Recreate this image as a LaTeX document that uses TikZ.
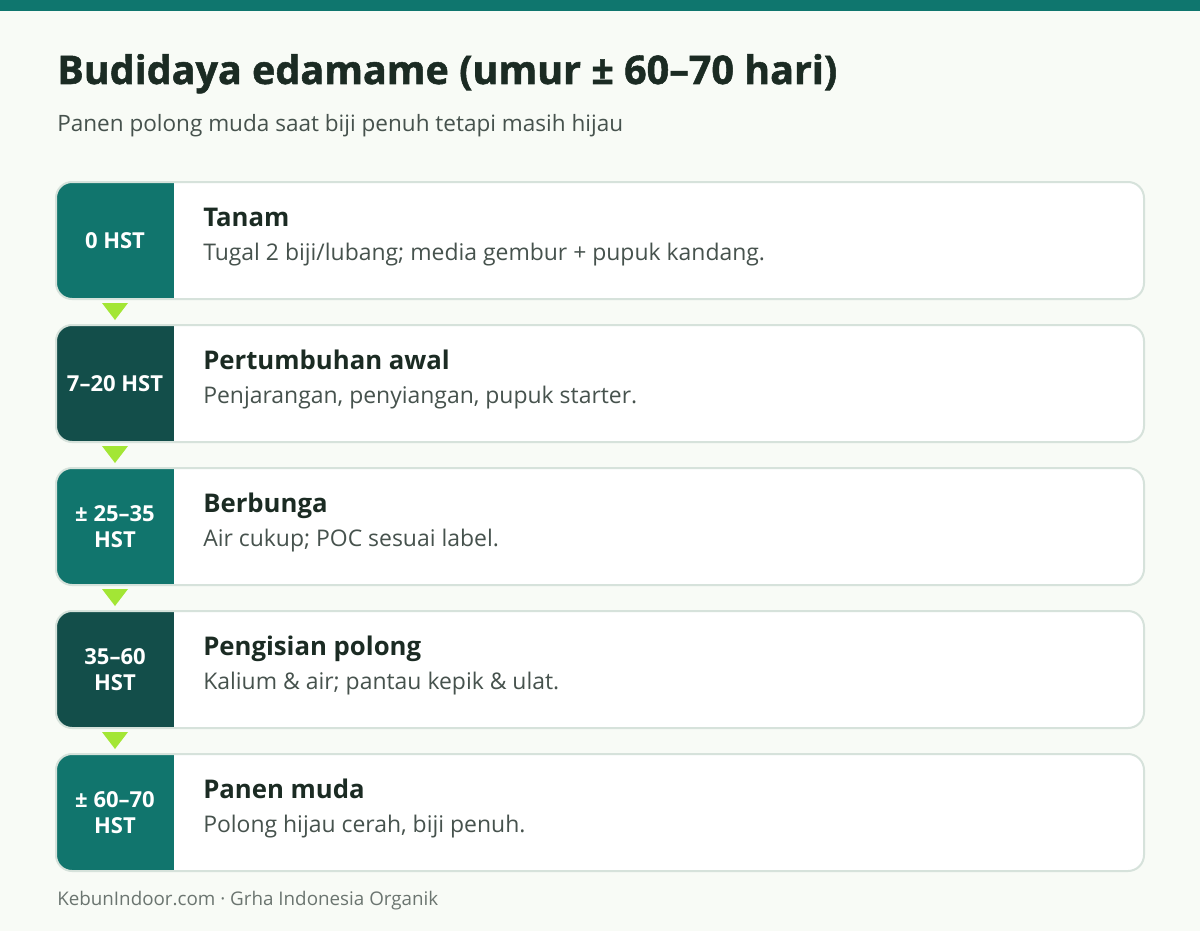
\documentclass[tikz,border=0pt]{standalone}
\usepackage{fontspec}
\setmainfont{Open Sans}
\newfontfamily\titlefont[BoldFeatures={FakeBold=1.3}]{Open Sans}
\definecolor{topbar}{HTML}{0F766E}
\definecolor{pagebg}{HTML}{F8FBF6}
\definecolor{cardline}{HTML}{D6E2DB}
\definecolor{stageA}{HTML}{11756D}
\definecolor{stageB}{HTML}{134E4A}
\definecolor{lime}{HTML}{A3E635}
\definecolor{inkdark}{HTML}{1B2B23}
\definecolor{inkgrey}{HTML}{46524D}
\definecolor{inkfoot}{HTML}{6B7570}
\tikzset{
	heading/.style={anchor=base west,inner sep=0pt,text=inkdark,font=\fontsize{19.3}{23}\selectfont\bfseries},
	detail/.style={anchor=base west,inner sep=0pt,text=inkgrey,font=\fontsize{17.2}{20}\selectfont},
	badge/.style={align=center,inner sep=0pt,text=white,font=\fontsize{16.5}{19.5}\selectfont\bfseries}
}
\begin{document}
\begin{tikzpicture}[x=0.75pt,y=-0.75pt]
		\useasboundingbox (0,0) rectangle (1200,931);
		\fill[pagebg] (0,0) rectangle (1200,931);
		\fill[topbar] (0,0) rectangle (1200,11);

		\node[anchor=base west,inner sep=0pt,text=inkdark,font=\fontsize{29.6}{34}\selectfont\titlefont\bfseries] (title) at (57,84) {Budidaya edamame (umur ± 60–70 hari)};
		\node[anchor=base west,inner sep=0pt,text=inkgrey,font=\fontsize{16.9}{20}\selectfont] (subtitle) at (57,132) {Panen polong muda saat biji penuh tetapi masih hijau};

		\foreach \i/\when/\head/\desc/\col in {
			0/{0 HST}/{Tanam}/{Tugal 2 biji/lubang; media gembur + pupuk kandang.}/stageA,
			1/{7–20 HST}/{Pertumbuhan awal}/{Penjarangan, penyiangan, pupuk starter.}/stageB,
			2/{± 25–35\\HST}/{Berbunga}/{Air cukup; POC sesuai label.}/stageA,
			3/{35–60\\HST}/{Pengisian polong}/{Kalium \& air; pantau kepik \& ulat.}/stageB,
			4/{± 60–70\\HST}/{Panen muda}/{Polong hijau cerah, biji penuh.}/stageA}{
			\pgfmathsetmacro{\top}{182+143*\i}
			\fill[white,rounded corners=12pt] (56,\top) rectangle (1144,\top+117);
			\begin{scope}
				\clip[rounded corners=12pt] (56,\top) rectangle (1144,\top+117);
				\fill[\col] (56,\top) rectangle (174,\top+117);
			\end{scope}
			\draw[cardline,line width=1.5pt,rounded corners=12pt] (56,\top) rectangle (1144,\top+117);
			\node[badge] (when\i) at (115,\top+58.5) {\when};
			\node[heading] (head\i) at (203,\top+44) {\head};
			\node[detail] (desc\i) at (203,\top+78) {\desc};
		}

		% arrows between the stages
		\foreach \i in {0,...,3}{
			\pgfmathsetmacro{\top}{182+143*\i}
			\fill[lime] (102,\top+121) -- (128,\top+121) -- (115,\top+138) -- cycle;
		}

		\node[anchor=base west,inner sep=0pt,text=inkfoot,font=\fontsize{14.1}{17}\selectfont] (footer) at (57,905) {KebunIndoor.com · Grha Indonesia Organik};
	\end{tikzpicture}
\end{document}
